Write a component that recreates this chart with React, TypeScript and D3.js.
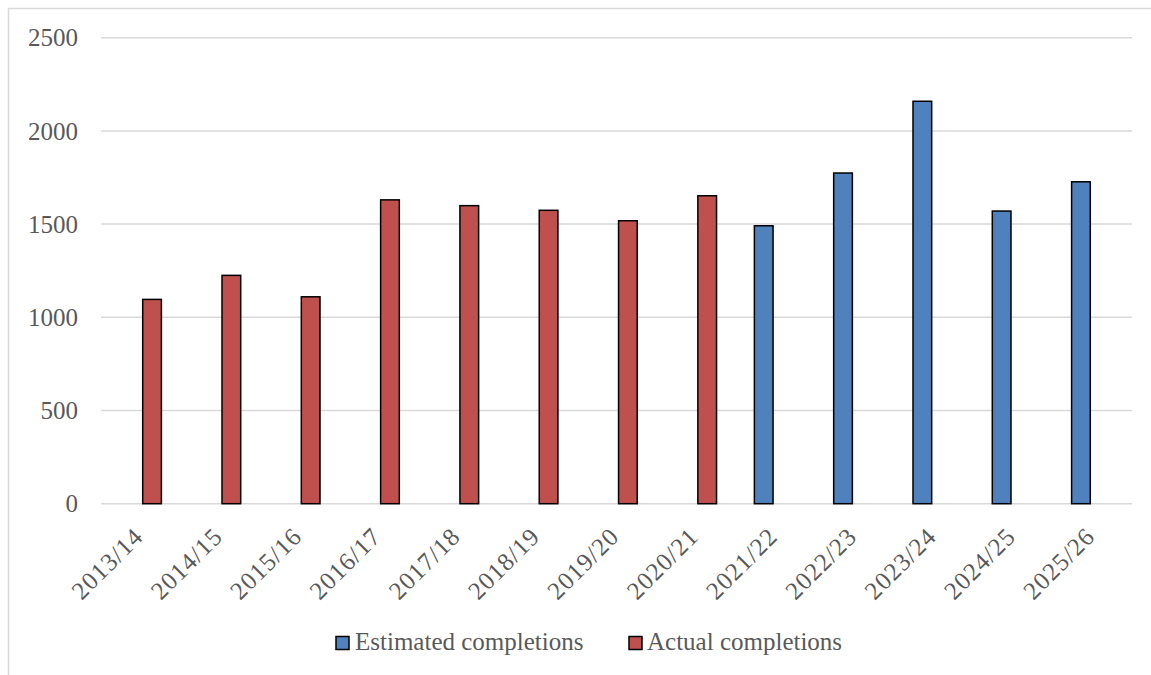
import React from "react";
import * as d3 from "d3";

const categories = [
  "2013/14", "2014/15", "2015/16", "2016/17", "2017/18", "2018/19", "2019/20",
  "2020/21", "2021/22", "2022/23", "2023/24", "2024/25", "2025/26",
];
const estimated: (number | null)[] = [
  null, null, null, null, null, null, null, null, 1491, 1774, 2159, 1570, 1727,
];
const actual: (number | null)[] = [
  1096, 1225, 1110, 1630, 1599, 1574, 1518, 1652, null, null, null, null, null,
];
const yTicks = [0, 500, 1000, 1500, 2000, 2500];
const seriesNames = ["Estimated completions", "Actual completions"];
const seriesColors = ["#4F81BD", "#C0504D"];

const W = 1151;
const H = 675;
const FONT = "'Liberation Serif', 'Times New Roman', serif";
const TEXT = "#595959";

export default function App() {
  const x = d3.scaleBand<string>().domain(categories).range([101, 1132]).paddingInner(0.477).paddingOuter(0.2385);
  const inner = d3.scaleBand<string>().domain(seriesNames).range([0, x.bandwidth()]).paddingInner(0.18);
  const y = d3.scaleLinear().domain([0, 2500]).range([503.7, 37.7]);

  const series = [estimated, actual];

  return (
    <svg width={W} height={H} style={{ position: "absolute", left: 0, top: 0, background: "#fff" }}>
      <rect x={8.5} y={8.5} width={W + 10} height={H + 10} fill="#fff" stroke="#D9D9D9" strokeWidth={1.5} />
      {yTicks.map((t) => (
        <g key={t}>
          <line x1={101} x2={1132} y1={y(t)} y2={y(t)} stroke="#D9D9D9" strokeWidth={1.5} />
          <text x={78} y={y(t)} dy="0.35em" textAnchor="end" fontFamily={FONT} fontSize={25} fill={TEXT}>
            {t}
          </text>
        </g>
      ))}
      {series.map((vals, si) =>
        vals.map((v, i) =>
          v == null ? null : (
            <rect
              key={`${si}-${i}`}
              x={(x(categories[i]) ?? 0) + (inner(seriesNames[si]) ?? 0)}
              y={y(v)}
              width={inner.bandwidth()}
              height={y(0) - y(v)}
              fill={seriesColors[si]}
              stroke="#000"
              strokeWidth={1.5}
            />
          )
        )
      )}
      {categories.map((c) => {
        const cx = (x(c) ?? 0) + x.bandwidth() / 2;
        return (
          <text
            key={c}
            transform={`translate(${cx + 4},${538}) rotate(-45)`}
            textAnchor="end"
            fontFamily={FONT}
            fontSize={25}
            letterSpacing={1}
            fill={TEXT}
          >
            {c}
          </text>
        );
      })}
      {/* legend */}
      {[
        { sx: 336, tx: 355 },
        { sx: 629, tx: 647 },
      ].map((p, i) => (
        <g key={seriesNames[i]}>
          <rect x={p.sx} y={636.5} width={13} height={13} fill={seriesColors[i]} stroke="#000" strokeWidth={1.5} />
          <text x={p.tx} y={650} fontFamily={FONT} fontSize={25} fill={TEXT}>
            {seriesNames[i]}
          </text>
        </g>
      ))}
    </svg>
  );
}
